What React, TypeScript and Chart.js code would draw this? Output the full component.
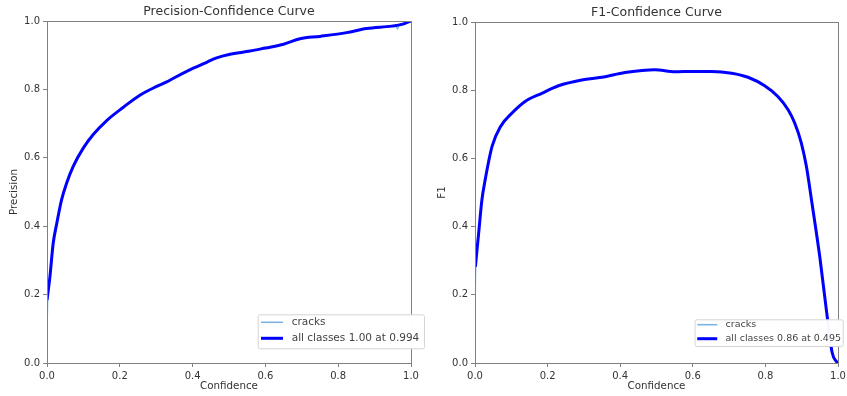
import React, { useEffect, useRef } from "react";
import { Chart, registerables } from "chart.js";

Chart.register(...registerables);
Chart.defaults.font.family = "'DejaVu Sans', sans-serif";

// ---------- data ----------
const AXIS_TICKS = [0, 0.2, 0.4, 0.6, 0.8, 1.0];

const PREC_CONF = [0, 0.008, 0.017, 0.027, 0.04, 0.054, 0.072, 0.1, 0.127, 0.164, 0.21, 0.255, 0.3, 0.329, 0.35, 0.402, 0.44, 0.466, 0.5, 0.558, 0.6, 0.65, 0.695, 0.75, 0.823, 0.878, 0.947, 0.975, 1.0];
const PREC_ALL = [0.184, 0.252, 0.35, 0.409, 0.477, 0.526, 0.575, 0.629, 0.668, 0.709, 0.748, 0.783, 0.808, 0.822, 0.834, 0.862, 0.88, 0.892, 0.902, 0.912, 0.921, 0.932, 0.948, 0.955, 0.966, 0.978, 0.985, 0.99, 1.0];

const PREC_CRACKS_CONF = [0, 0.002, 0.008, 0.017, 0.027, 0.04, 0.054, 0.072, 0.1, 0.127, 0.164, 0.21, 0.255, 0.3, 0.329, 0.35, 0.402, 0.44, 0.466, 0.5, 0.558, 0.6, 0.65, 0.695, 0.75, 0.823, 0.878, 0.947, 0.958, 0.963, 0.968, 0.98, 1.0];
const PREC_CRACKS = [0.081, 0.184, 0.252, 0.35, 0.409, 0.477, 0.526, 0.575, 0.629, 0.668, 0.709, 0.748, 0.783, 0.808, 0.822, 0.834, 0.862, 0.88, 0.892, 0.902, 0.912, 0.921, 0.932, 0.948, 0.955, 0.966, 0.978, 0.985, 0.986, 0.976, 0.99, 0.992, 1.0];

const F1_CONF = [0.001, 0.01, 0.019, 0.028, 0.047, 0.07, 0.102, 0.138, 0.184, 0.23, 0.294, 0.349, 0.413, 0.46, 0.495, 0.551, 0.597, 0.652, 0.707, 0.752, 0.798, 0.835, 0.863, 0.881, 0.899, 0.913, 0.927, 0.95, 0.968, 0.984, 0.998];
const F1_ALL = [0.282, 0.38, 0.478, 0.537, 0.635, 0.693, 0.733, 0.767, 0.791, 0.813, 0.83, 0.838, 0.852, 0.858, 0.86, 0.854, 0.855, 0.855, 0.85, 0.838, 0.813, 0.781, 0.742, 0.703, 0.645, 0.576, 0.478, 0.31, 0.155, 0.03, 0.0];

const F1_CRACKS_CONF = [0, 0.002, 0.01, 0.019, 0.028, 0.047, 0.07, 0.102, 0.138, 0.184, 0.23, 0.294, 0.349, 0.413, 0.46, 0.495, 0.551, 0.597, 0.652, 0.707, 0.752, 0.798, 0.835, 0.863, 0.881, 0.899, 0.913, 0.927, 0.95, 0.968, 0.988, 1.0];
const F1_CRACKS = [0.146, 0.282, 0.38, 0.478, 0.537, 0.635, 0.693, 0.733, 0.767, 0.791, 0.813, 0.83, 0.838, 0.852, 0.858, 0.86, 0.854, 0.855, 0.855, 0.85, 0.838, 0.813, 0.781, 0.742, 0.703, 0.645, 0.576, 0.478, 0.31, 0.155, 0.018, 0.0];

const PREC_LEGEND = ["cracks", "all classes 1.00 at 0.994"];
const F1_LEGEND = ["cracks", "all classes 0.86 at 0.495"];

// ---------- styles ----------
const TEXT = "#333333";
const FRAME = "#808080";
const CRACKS_COLOR = "#7fb3dd";
const ALL_COLOR = "#0000ff";

const decorPlugin = {
  id: "decor",
  afterDatasetsDraw(chart: any, _args: any, o: any) {
    const { ctx, chartArea: a } = chart;
    ctx.save();
    ctx.strokeStyle = FRAME;
    ctx.lineWidth = 1;
    ctx.strokeRect(a.left + 0.5, a.top + 0.5, a.right - a.left, a.bottom - a.top);

    ctx.fillStyle = TEXT;
    ctx.font = `${o.titleSize}px 'DejaVu Sans'`;
    ctx.textAlign = "center";
    ctx.textBaseline = "middle";
    ctx.fillText(o.title, (a.left + a.right) / 2, o.titleY);

    const L = o.legend;
    const labels: string[] = o.labels;
    ctx.font = `${L.fontSize}px 'DejaVu Sans'`;
    const tw = Math.max(...labels.map((t) => ctx.measureText(t).width));
    const boxW = L.padLeft + L.lineLen + L.textGap + tw + L.padRight;
    const boxH = L.padTop + L.rowGap * (labels.length - 1) + L.padBottom;
    const boxR = a.right + L.dxRight;
    const boxB = a.bottom + L.dyBottom;
    const boxL = boxR - boxW;
    const boxT = boxB - boxH;
    ctx.beginPath();
    ctx.roundRect(boxL + 0.5, boxT + 0.5, boxW, boxH, 2);
    ctx.fillStyle = "rgba(255,255,255,0.97)";
    ctx.fill();
    ctx.strokeStyle = "#d4d4d4";
    ctx.lineWidth = 1;
    ctx.stroke();
    const colors = [CRACKS_COLOR, ALL_COLOR];
    const widths = [1.6, 3];
    labels.forEach((t, i) => {
      const y = boxT + L.padTop + i * L.rowGap;
      const x0 = boxL + L.padLeft;
      ctx.beginPath();
      ctx.strokeStyle = colors[i];
      ctx.lineWidth = widths[i];
      ctx.moveTo(x0, y);
      ctx.lineTo(x0 + L.lineLen, y);
      ctx.stroke();
      ctx.fillStyle = "#444444";
      ctx.textAlign = "left";
      ctx.textBaseline = "middle";
      ctx.fillText(t, x0 + L.lineLen + L.textGap, y);
    });
    ctx.restore();
  },
};

function toPoints(xs: number[], ys: number[]) {
  return xs.map((x, i) => ({ x, y: ys[i] }));
}

function zeroPad(s: any) {
  s.paddingLeft = 0;
  s.paddingRight = 0;
  s.paddingTop = 0;
  s.paddingBottom = 0;
}

function buildConfig(p: any): any {
  const axisCommon = {
    type: "linear",
    min: 0,
    max: 1,
    afterBuildTicks: (s: any) => {
      s.ticks = AXIS_TICKS.map((v) => ({ value: v }));
    },
    ticks: {
      callback: (v: any) => Number(v).toFixed(1),
      color: TEXT,
      font: { size: 10 },
      padding: 3,
      autoSkip: false,
      maxRotation: 0,
    },
    grid: { display: true, drawOnChartArea: false, drawTicks: true, tickLength: 4, color: FRAME },
    border: { display: false },
  };
  return {
    type: "line",
    data: {
      datasets: [
        {
          label: p.legend[0],
          data: toPoints(p.crX, p.crY),
          borderColor: CRACKS_COLOR,
          borderWidth: 1.3,
          pointRadius: 0,
          cubicInterpolationMode: "monotone",
          fill: false,
          order: 2,
        },
        {
          label: p.legend[1],
          data: toPoints(p.allX, p.allY),
          borderColor: ALL_COLOR,
          borderWidth: 3,
          pointRadius: 0,
          cubicInterpolationMode: "monotone",
          fill: false,
          order: 1,
        },
      ],
    },
    options: {
      animation: false,
      responsive: false,
      maintainAspectRatio: false,
      layout: { padding: { left: 0, right: p.w - p.area.right, top: p.area.top, bottom: 0 } },
      scales: {
        x: {
          ...axisCommon,
          position: "bottom",
          title: { display: true, text: "Confidence", color: TEXT, font: { size: 10.3 }, padding: { top: 0, bottom: 3 } },
          afterFit: (s: any) => {
            s.height = p.h - p.area.bottom;
            zeroPad(s);
          },
        },
        y: {
          ...axisCommon,
          position: "left",
          title: { display: true, text: p.yLabel, color: TEXT, font: { size: 10.3 }, padding: { top: p.yTitlePad, bottom: 0 } },
          afterFit: (s: any) => {
            s.width = p.area.left;
            zeroPad(s);
          },
        },
      },
      plugins: {
        legend: { display: false },
        title: { display: false },
        tooltip: { enabled: false },
        decor: {
          title: p.title,
          titleSize: 12.5,
          titleY: p.titleY,
          labels: p.legend,
          legend: p.legendBox,
        },
      },
    },
    plugins: [decorPlugin],
  };
}

function CurveChart({ cfg, w, h }: { cfg: any; w: number; h: number }) {
  const ref = useRef<HTMLCanvasElement>(null);
  useEffect(() => {
    const chart = new Chart(ref.current as HTMLCanvasElement, cfg);
    return () => chart.destroy();
  }, []);
  return <canvas ref={ref} width={w} height={h} style={{ display: "block", width: w, height: h }} />;
}

export default function App() {
  const H = 396;
  const precCfg = buildConfig({
    w: 430,
    h: H,
    area: { left: 47, right: 411, top: 21, bottom: 363 },
    title: "Precision-Confidence Curve",
    titleY: 11.7,
    yLabel: "Precision",
    yTitlePad: 8.5,
    allX: PREC_CONF,
    allY: PREC_ALL,
    crX: PREC_CRACKS_CONF,
    crY: PREC_CRACKS,
    legend: PREC_LEGEND,
    legendBox: { fontSize: 10.5, padLeft: 3.3, lineLen: 22, textGap: 8.7, padRight: 4.7, padTop: 8, rowGap: 16, padBottom: 10, dxRight: 13, dyBottom: -14.7 },
  });
  const f1Cfg = buildConfig({
    w: 417,
    h: H,
    area: { left: 45, right: 408, top: 22, bottom: 363 },
    title: "F1-Confidence Curve",
    titleY: 12.3,
    yLabel: "F1",
    yTitlePad: 6.5,
    allX: F1_CONF,
    allY: F1_ALL,
    crX: F1_CRACKS_CONF,
    crY: F1_CRACKS,
    legend: F1_LEGEND,
    legendBox: { fontSize: 9.5, padLeft: 2.7, lineLen: 20, textGap: 8.3, padRight: 1.7, padTop: 5.4, rowGap: 14, padBottom: 7.3, dxRight: 4.7, dyBottom: -17 },
  });
  return (
    <div style={{ position: "absolute", left: 0, top: 0, width: 847, height: H, background: "#fff" }}>
      <div style={{ position: "absolute", left: 0, top: 0 }}>
        <CurveChart cfg={precCfg} w={430} h={H} />
      </div>
      <div style={{ position: "absolute", left: 430, top: 0 }}>
        <CurveChart cfg={f1Cfg} w={417} h={H} />
      </div>
    </div>
  );
}
